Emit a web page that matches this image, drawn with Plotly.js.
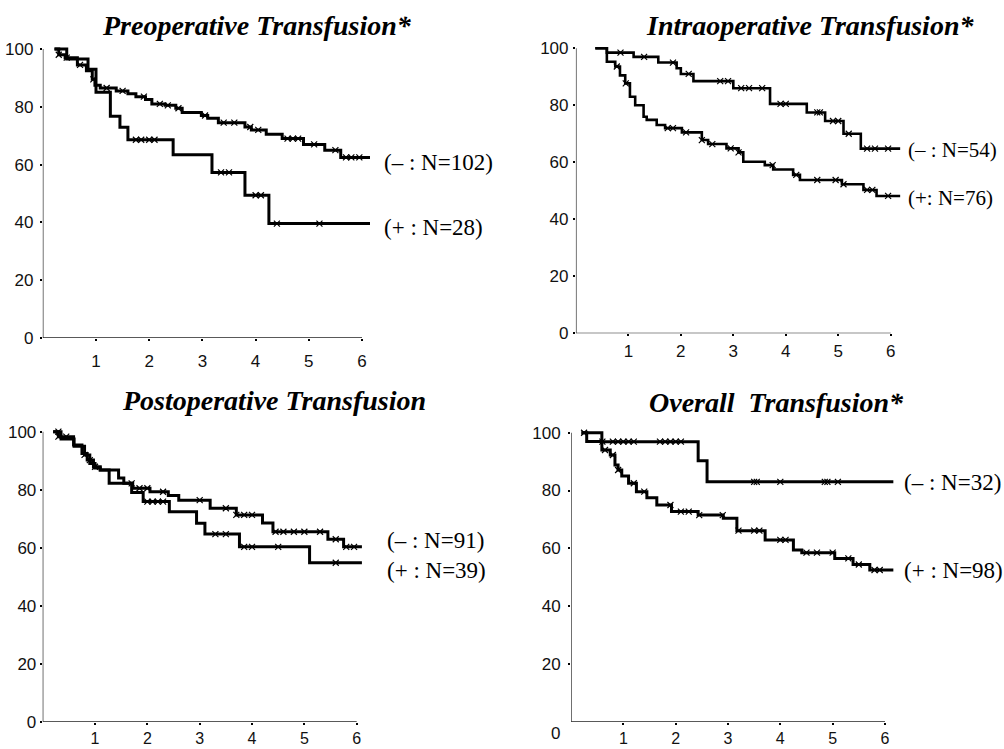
<!DOCTYPE html>
<html><head><meta charset="utf-8">
<script src="https://cdn.plot.ly/plotly-3.0.1.min.js"></script>
<style>html,body{margin:0;padding:0;background:#fff;}#chart{width:1004px;height:749px;}</style>
</head><body><div id="chart"></div>
<script>
// ---------------- DATA ----------------
const panelTitles = ["Preoperative Transfusion*", "Intraoperative Transfusion*", "Postoperative Transfusion", "Overall\u00a0 Transfusion*"];
const xTickVals = [1, 2, 3, 4, 5, 6];
const yTickVals = [0, 20, 40, 60, 80, 100];

// Panel 1: Preoperative
const p1NegLabel = "(\u2013 : N=102)";
const p1NegT = [0.22, 0.3, 0.42, 0.65, 0.82, 0.93, 0.98, 1.08, 1.38, 1.6, 1.75, 1.93, 2.05, 2.3, 2.5, 2.62, 2.98, 3.1, 3.3, 3.8, 3.92, 4.2, 4.5, 4.9, 5.3, 5.6, 6.15];
const p1NegS = [100, 98, 97, 94.5, 92.5, 89.5, 87.5, 86.5, 85.5, 84.5, 83.5, 82.5, 81, 80.5, 79.5, 78, 77, 76, 74.5, 73, 72, 70.5, 69, 67, 65, 62.5, 62.5];
const p1NegC = [0.3, 0.45, 0.7, 0.95, 1.2, 1.5, 1.9, 2.2, 2.35, 2.55, 3.05, 3.4, 3.6, 3.9, 4.05, 4.6, 4.7, 4.8, 5.1, 5.5, 5.7, 5.8, 5.95];
const p1PosLabel = "(+ : N=28)";
const p1PosT = [0.22, 0.45, 0.85, 1.0, 1.27, 1.45, 1.6, 2.45, 3.18, 3.8, 4.25, 6.15];
const p1PosS = [100, 96.5, 93, 85, 76.7, 72.9, 68.6, 63.4, 57.3, 49.4, 39.6, 39.6];
const p1PosC = [1.75, 1.85, 2.0, 2.1, 3.35, 3.5, 4.0, 4.1, 4.4, 5.2];

// Panel 2: Intraoperative
const p2NegLabel = "(\u2013 : N=54)";
const p2NegT = [0.37, 0.59, 1.1, 1.57, 1.92, 2.0, 2.24, 3.0, 3.7, 4.4, 4.75, 5.1, 5.43, 6.18];
const p2NegS = [100, 98.5, 97, 95, 93, 91, 88.5, 86, 80.5, 77.5, 74.5, 70, 64.8, 64.8];
const p2NegC = [0.85, 1.3, 1.85, 2.15, 2.75, 2.9, 3.15, 3.3, 3.55, 3.9, 4.0, 4.6, 4.65, 4.9, 5.0, 5.2, 5.55, 5.7, 5.95];
const p2PosLabel = "(+: N=76)";
const p2PosT = [0.37, 0.59, 0.75, 0.84, 0.94, 1.03, 1.13, 1.29, 1.35, 1.54, 1.7, 2.02, 2.4, 2.52, 2.87, 3.1, 3.19, 3.6, 3.76, 4.14, 4.27, 5.07, 5.48, 5.73, 6.18];
const p2PosS = [100, 95.3, 93.6, 90.5, 87.7, 83, 80, 76, 74.9, 73.1, 72, 70.5, 67.8, 66.4, 64.9, 63.5, 60.2, 59, 57.5, 55.6, 53.8, 52.3, 50.3, 48.2, 48.2];
const p2PosC = [0.78, 0.95, 1.75, 1.85, 2.1, 2.4, 2.6, 2.95, 3.1, 3.75, 4.2, 4.6, 4.95, 5.1, 5.55, 5.65, 5.95];

// Panel 3: Postoperative
const p3NegLabel = "(\u2013 : N=91)";
const p3NegT = [0.2, 0.3, 0.59, 0.75, 0.85, 0.97, 1.1, 1.45, 1.55, 1.72, 2.05, 2.4, 2.6, 3.2, 3.7, 4.2, 4.4, 5.45, 5.75, 6.1];
const p3NegS = [100, 98.3, 95.4, 92.5, 90.2, 87.9, 86.8, 84, 82.2, 80.5, 79.3, 78, 76.4, 73.6, 71.3, 68.5, 65.5, 62.9, 60.3, 60.3];
const p3NegC = [0.3, 0.45, 0.9, 1.0, 1.7, 1.85, 2.0, 2.3, 3.0, 3.5, 3.7, 3.85, 4.0, 4.45, 4.6, 4.8, 5.0, 5.3, 5.6, 5.8, 5.95];
const p3PosLabel = "(+ : N=39)";
const p3PosT = [0.2, 0.35, 0.6, 0.8, 0.9, 1.0, 1.1, 1.27, 1.7, 1.92, 2.42, 2.94, 3.1, 3.76, 5.1, 6.1];
const p3PosS = [100, 97.5, 95, 92, 89, 87.5, 86.8, 82.2, 79, 75.9, 72.4, 68.4, 64.7, 60.3, 54.8, 54.8];
const p3PosC = [0.3, 0.8, 2.0, 2.1, 2.2, 2.3, 3.3, 3.5, 3.85, 4.0, 4.5, 5.6];

// Panel 4: Overall
const p4NegLabel = "(\u2013 : N=32)";
const p4NegT = [0.2, 0.59, 2.43, 2.6, 6.16];
const p4NegS = [100, 96.9, 90.3, 83, 83];
const p4NegC = [0.6, 0.8, 0.9, 1.0, 1.1, 1.2, 1.7, 1.8, 1.9, 2.0, 2.1, 3.5, 3.55, 4.0, 4.85, 4.9, 5.1];
const p4PosLabel = "(+ : N=98)";
const p4PosT = [0.2, 0.3, 0.59, 0.75, 0.84, 0.9, 0.97, 1.1, 1.25, 1.45, 1.64, 1.92, 2.43, 2.91, 3.17, 3.71, 4.25, 4.41, 5.04, 5.39, 5.71, 6.16];
const p4PosS = [100, 97, 94, 92.3, 88.8, 87.1, 85, 82.5, 79.6, 77.5, 75, 72.7, 71.5, 70.4, 66.1, 62.9, 59.4, 58.5, 56.5, 54.4, 52.5, 52.5];
const p4PosC = [0.25, 0.65, 0.8, 0.9, 1.2, 1.4, 1.9, 2.1, 2.25, 2.45, 2.9, 3.2, 3.5, 3.6, 4.0, 4.1, 4.5, 4.7, 5.0, 5.3, 5.5, 5.8, 5.9];

// ---------------- LAYOUT GEOMETRY ----------------
const W = 1004, H = 749;
const fx = p => p / W, fy = p => 1 - p / H;
const XMAX = 6.25, YMAX = 102.5;
const panels = [
  {s:'',  x0:42.8,  sx:53.2,  y0:338,   y100:49,    lw:3,   title:[257, 26], lab:[382, 163, 227], lf:23, xs:6, ys:3, xf:17},
  {s:'2', x0:575.9, sx:52.47, y0:333.3, y100:48.3,  lw:2.6, title:[810, 26], lab:[906, 150, 198], lf:21, xs:0, ys:1, xf:17},
  {s:'3', x0:42.7,  sx:52.33, y0:721.7, y100:431.7, lw:3,   title:[274, 400], lab:[385, 540, 570], lf:23, xs:0, ys:0, xf:16},
  {s:'4', x0:571,   sx:52.33, y0:721.7, y100:432.7, lw:3,   title:[776, 402], lab:[902, 483, 570], lf:23, xs:0, ys:4, xf:16}
];
const series = [
  [p1NegT, p1NegS, p1NegC, p1NegLabel, p1PosT, p1PosS, p1PosC, p1PosLabel],
  [p2NegT, p2NegS, p2NegC, p2NegLabel, p2PosT, p2PosS, p2PosC, p2PosLabel],
  [p3NegT, p3NegS, p3NegC, p3NegLabel, p3PosT, p3PosS, p3PosC, p3PosLabel],
  [p4NegT, p4NegS, p4NegC, p4NegLabel, p4PosT, p4PosS, p4PosC, p4PosLabel]
];

function survAt(T, S, t) { let v = S[0]; for (let i = 0; i < T.length; i++) if (T[i] <= t) v = S[i]; return v; }

const traces = [], annotations = [], shapes = [];
const layout = {
  width: W, height: H, margin: {l:0, r:0, t:0, b:0},
  paper_bgcolor: '#fff', plot_bgcolor: 'rgba(0,0,0,0)', showlegend: false,
  annotations, shapes
};
const fam = 'Liberation Sans, Arial, sans-serif';
const serif = 'Liberation Serif, Times New Roman, serif';

panels.forEach((p, i) => {
  const [nT, nS, nC, nL, pT, pS, pC, pL] = series[i];
  const xa = 'x' + p.s, ya = 'y' + p.s;
  const sy = (p.y0 - p.y100) / 100;
  layout['xaxis' + p.s] = {
    domain: [fx(p.x0), fx(p.x0 + XMAX * p.sx)], range: [0, XMAX], anchor: ya,
    tickvals: xTickVals, ticks: 'outside', ticklen: 2, tickwidth: 2, tickcolor: '#000',
    showgrid: false, zeroline: false, showline: false,
    tickfont: {family: fam, size: p.xf, color: '#111'},
    ticklabelstandoff: p.xs, fixedrange: true
  };
  layout['yaxis' + p.s] = {
    domain: [fy(p.y0), fy(p.y0 - YMAX * sy)], range: [0, YMAX], anchor: xa,
    tickvals: i === 3 ? yTickVals.slice(1) : yTickVals, ticks: 'outside', ticklen: 2, tickwidth: 2, tickcolor: '#000',
    showgrid: false, zeroline: false, showline: false,
    tickfont: {family: fam, size: 17, color: '#111'},
    ticklabelstandoff: p.ys, fixedrange: true
  };
  shapes.push({type:'line', xref:xa, yref:ya, x0:0, x1:6, y0:0, y1:0, line:{color:'#222', width:1.3}});
  shapes.push({type:'line', xref:xa, yref:ya, x0:0, x1:0, y0:0, y1:100, line:{color:'#222', width:1.3}});

  [[nT, nS, nC], [pT, pS, pC]].forEach(([T, S, C]) => {
    traces.push({x: T, y: S, xaxis: xa, yaxis: ya, mode: 'lines', hoverinfo: 'skip',
      line: {shape: 'hv', color: '#000', width: p.lw}});
    traces.push({x: C, y: C.map(t => survAt(T, S, t)), xaxis: xa, yaxis: ya, mode: 'markers', hoverinfo: 'skip',
      marker: {symbol: 'x-thin', size: 6, color: '#000', line: {width: 1.2, color: '#000'}}});
  });

  annotations.push({xref:'paper', yref:'paper', x: fx(p.title[0]), y: fy(p.title[1]), xanchor:'center', yanchor:'middle',
    text: '<b><i>' + panelTitles[i] + '</i></b>', showarrow:false,
    font:{family: serif, size:28, color:'#000'}});
  annotations.push({xref:'paper', yref:'paper', x: fx(p.lab[0]), y: fy(p.lab[1]), xanchor:'left', yanchor:'middle',
    text: nL, showarrow:false, font:{family: serif, size:p.lf, color:'#000'}});
  annotations.push({xref:'paper', yref:'paper', x: fx(p.lab[0]), y: fy(p.lab[2]), xanchor:'left', yanchor:'middle',
    text: pL, showarrow:false, font:{family: serif, size:p.lf, color:'#000'}});
});
// panel 4 "0" label sits below the axis in the original
annotations.push({xref:'paper', yref:'paper', x: fx(562), y: fy(733), xanchor:'right', yanchor:'middle',
  text: String(yTickVals[0]), showarrow:false, font: {family: fam, size: 17, color: '#111'}});

Plotly.newPlot('chart', traces, layout, {displayModeBar: false, staticPlot: true});
</script></body></html>
